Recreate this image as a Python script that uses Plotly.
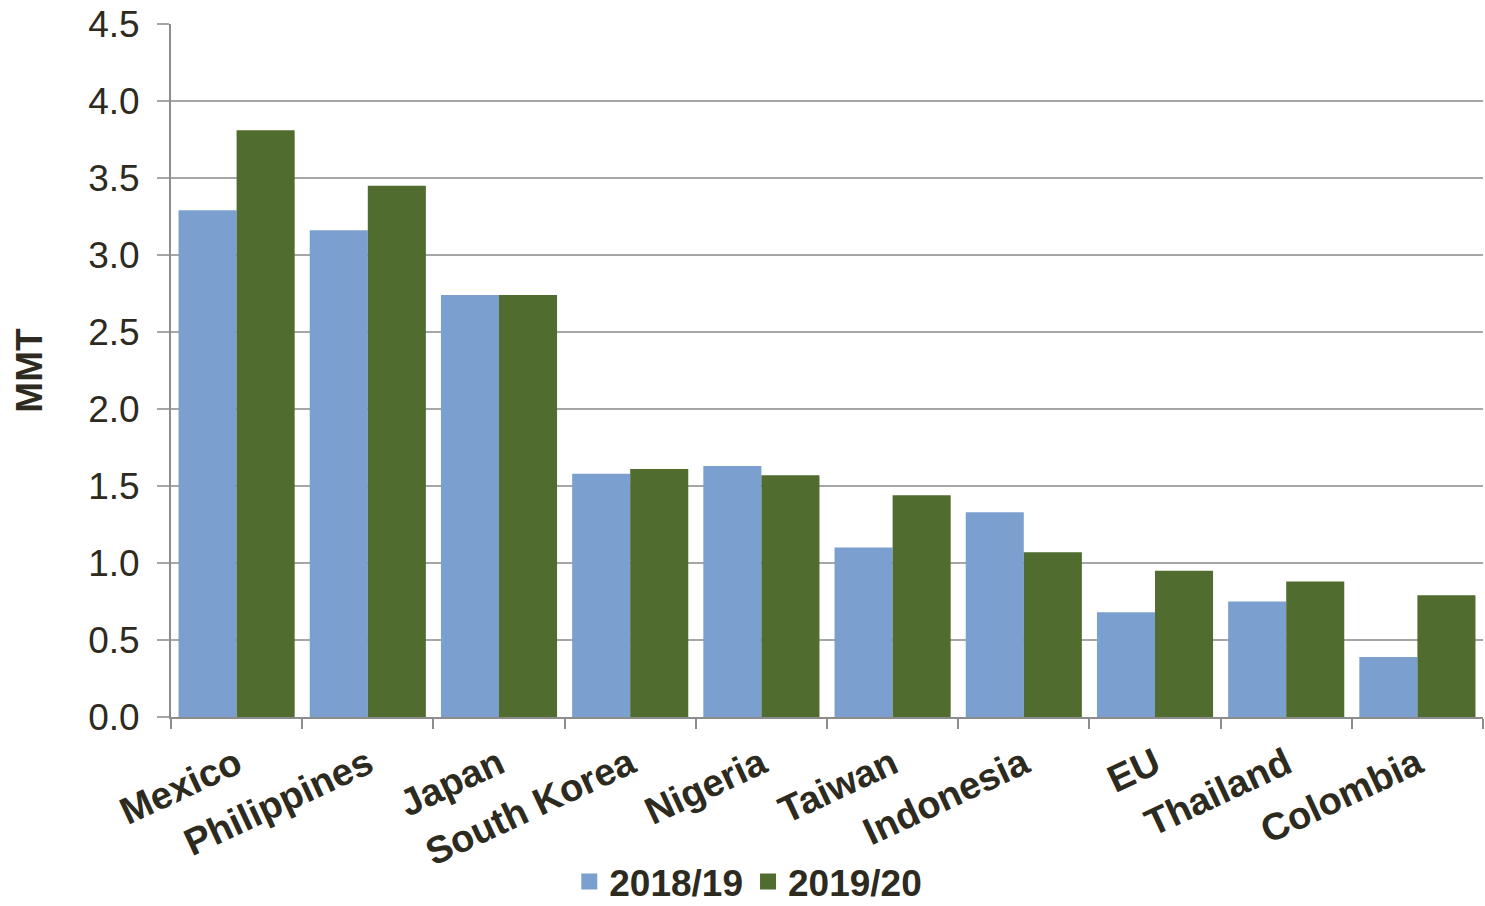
import plotly.graph_objects as go

# Categories and series (million metric tons)
countries = ["Mexico", "Philippines", "Japan", "South Korea", "Nigeria",
             "Taiwan", "Indonesia", "EU", "Thailand", "Colombia"]
mmt_2018_19 = [3.29, 3.16, 2.74, 1.58, 1.63, 1.10, 1.33, 0.68, 0.75, 0.39]
mmt_2019_20 = [3.81, 3.45, 2.74, 1.61, 1.57, 1.44, 1.07, 0.95, 0.88, 0.79]
y_ticks = [0.0, 0.5, 1.0, 1.5, 2.0, 2.5, 3.0, 3.5, 4.0, 4.5]
y_tick_text = [f"{v:.1f}" for v in y_ticks]

TEXT = "#2d2a20"
FONT = "Liberation Sans, Arial, sans-serif"
BLUE = "#7ba0cf"
GREEN = "#506c2f"

fig = go.Figure()
fig.add_trace(go.Bar(name="2018/19", x=countries, y=mmt_2018_19, showlegend=False,
                     marker=dict(color=BLUE, line=dict(width=0))))
fig.add_trace(go.Bar(name="2019/20", x=countries, y=mmt_2019_20, showlegend=False,
                     marker=dict(color=GREEN, line=dict(width=0))))
# legend keys with larger square swatches
for name, col in (("2018/19", BLUE), ("2019/20", GREEN)):
    fig.add_trace(go.Scatter(name=name, x=[None], y=[None], mode="markers",
                             marker=dict(symbol="square", size=16, color=col)))

fig.update_layout(
    width=1485, height=906,
    margin=dict(l=171, r=2, t=24, b=189, autoexpand=False),
    paper_bgcolor="white", plot_bgcolor="white",
    barmode="group", bargap=0.115, bargroupgap=0,
    font=dict(family=FONT, color=TEXT, size=38),
    showlegend=True,
    legend=dict(orientation="h", x=0.44, xanchor="center", y=-0.238, yanchor="middle",
                font=dict(family=FONT, size=37, color=TEXT, weight="bold"),
                itemwidth=30, traceorder="normal", tracegroupgap=0),
)
fig.update_xaxes(
    tickangle=-25, automargin=False,
    tickfont=dict(family=FONT, size=38, color=TEXT, weight="bold"),
    showline=True, linecolor="#8c8c8c", linewidth=2,
    ticks="outside", tickson="boundaries", ticklen=10, tickwidth=2, tickcolor="#8c8c8c",
    ticklabelstandoff=8,
    showgrid=False,
)
fig.update_yaxes(
    range=[0, 4.5], automargin=False,
    tickvals=y_ticks, ticktext=y_tick_text,
    tickfont=dict(family=FONT, size=37, color=TEXT),
    showline=True, linecolor="#8c8c8c", linewidth=2,
    ticks="outside", ticklen=12, tickwidth=2, tickcolor="#a6a6a6",
    ticklabelstandoff=10,
    showgrid=True, gridcolor="#a6a6a6", gridwidth=2,
    zeroline=False,
    title=dict(text="<b>MMT</b>", font=dict(family=FONT, size=37, color=TEXT), standoff=34),
)

fig.write_html("out.html")
